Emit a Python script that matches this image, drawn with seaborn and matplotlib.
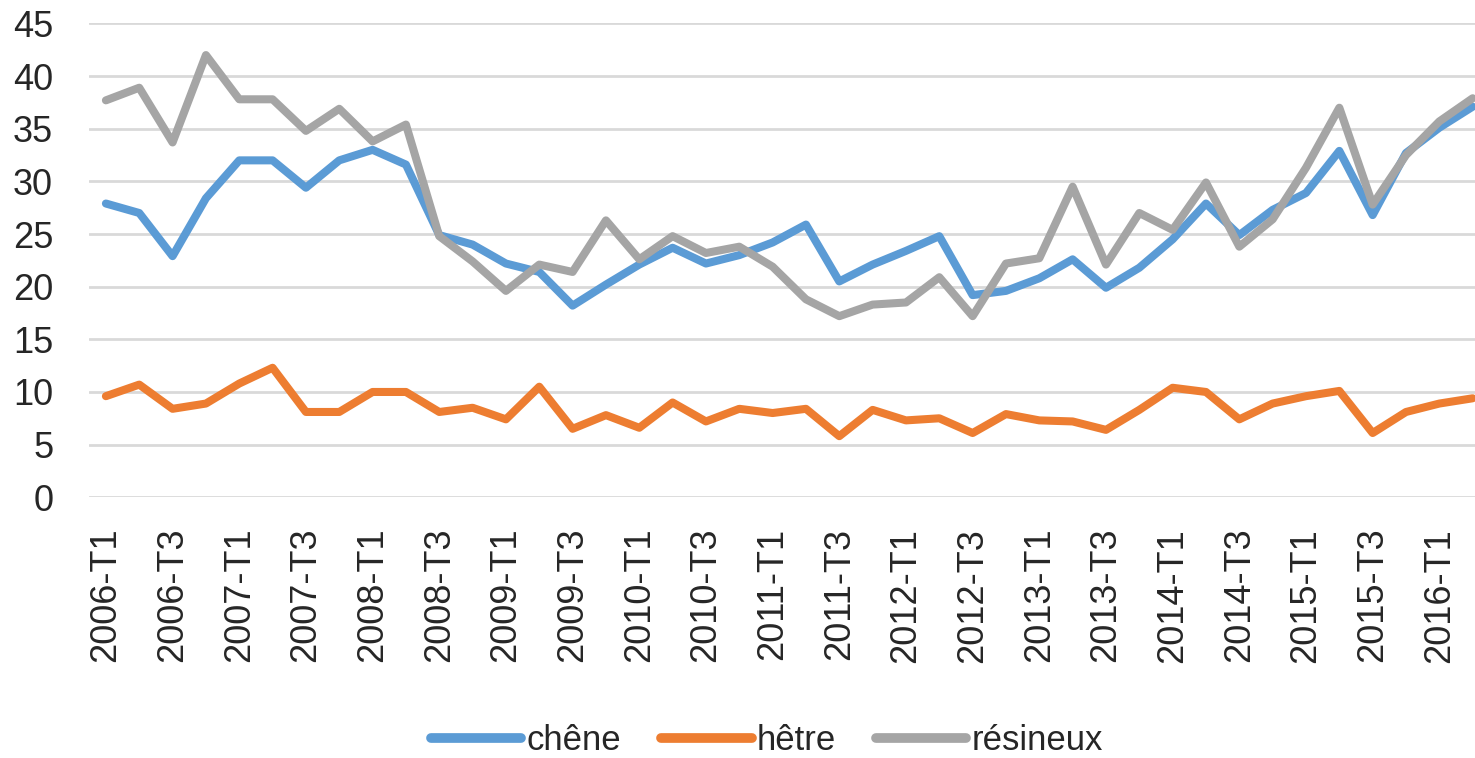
import pandas as pd
import seaborn as sns
import matplotlib
matplotlib.use("Agg")
import matplotlib.pyplot as plt

# quarterly series, 2006-T1 .. 2016-T2
years = list(range(2006, 2017))
quarters = [f"{y}-T{q}" for y in years for q in (1, 2, 3, 4)][:42]

chene = [27.9, 27.0, 22.9, 28.4, 32.0, 32.0, 29.4, 32.0, 33.0, 31.6,
         24.9, 24.0, 22.2, 21.4, 18.2, 20.2, 22.1, 23.7, 22.2, 23.0,
         24.2, 25.9, 20.5, 22.1, 23.4, 24.8, 19.2, 19.6, 20.8, 22.6,
         19.9, 21.8, 24.5, 27.9, 24.9, 27.3, 28.9, 32.9, 26.8, 32.7,
         35.1, 37.1]
hetre = [9.6, 10.7, 8.4, 8.9, 10.8, 12.3, 8.1, 8.1, 10.0, 10.0,
         8.1, 8.5, 7.4, 10.5, 6.5, 7.8, 6.6, 9.0, 7.2, 8.4,
         8.0, 8.4, 5.8, 8.3, 7.3, 7.5, 6.1, 7.9, 7.3, 7.2,
         6.4, 8.3, 10.4, 10.0, 7.4, 8.9, 9.6, 10.1, 6.1, 8.1,
         8.9, 9.4]
resineux = [37.7, 38.9, 33.7, 42.0, 37.8, 37.8, 34.8, 36.9, 33.8, 35.4,
            24.8, 22.4, 19.6, 22.1, 21.4, 26.3, 22.6, 24.8, 23.2, 23.8,
            21.9, 18.8, 17.2, 18.3, 18.5, 20.9, 17.2, 22.2, 22.7, 29.5,
            22.1, 27.0, 25.4, 29.9, 23.8, 26.4, 31.3, 37.0, 27.8, 32.5,
            35.7, 37.9]

series = ["chêne", "hêtre", "résineux"]
colors = ["#5B9BD5", "#ED7D31", "#A5A5A5"]

idx = list(range(len(quarters)))
df = pd.DataFrame({
    "x": idx * 3,
    "valeur": chene + hetre + resineux,
    "essence": [s for s in series for _ in idx],
})

sns.set_style("white")
plt.rcParams["font.family"] = ["Liberation Sans", "DejaVu Sans"]

fig = plt.figure(figsize=(14.75, 7.58), dpi=100)
ax = fig.add_axes([0.0605, 0.344, 0.9395, 0.625])

sns.lineplot(data=df, x="x", y="valeur", hue="essence", palette=colors,
             linewidth=5.8, ax=ax, legend=False)

ax.set_xlim(-0.5, 41.07)
ax.set_ylim(0, 45)
ax.set_yticks(range(0, 46, 5))
ax.set_xticks(idx[::2])
ax.set_xticklabels(quarters[::2], rotation=90)
ax.tick_params(axis="y", length=0, pad=26, labelsize=26)
ax.tick_params(axis="x", length=0, pad=22, labelsize=26)
ax.set_xlabel("")
ax.set_ylabel("")
ax.grid(axis="y", color="#D9D9D9", linewidth=2)
ax.set_axisbelow(True)
for s in ax.spines.values():
    s.set_visible(False)

handles = [plt.Line2D([], [], color=c, linewidth=7, solid_capstyle="round")
           for c in colors]
fig.legend(handles, series, loc="center", bbox_to_anchor=(0.52, 0.023),
           ncol=3, frameon=False, fontsize=25, handlelength=2.6,
           handletextpad=0.15, columnspacing=1.15)

fig.savefig("out.png", dpi=100)
